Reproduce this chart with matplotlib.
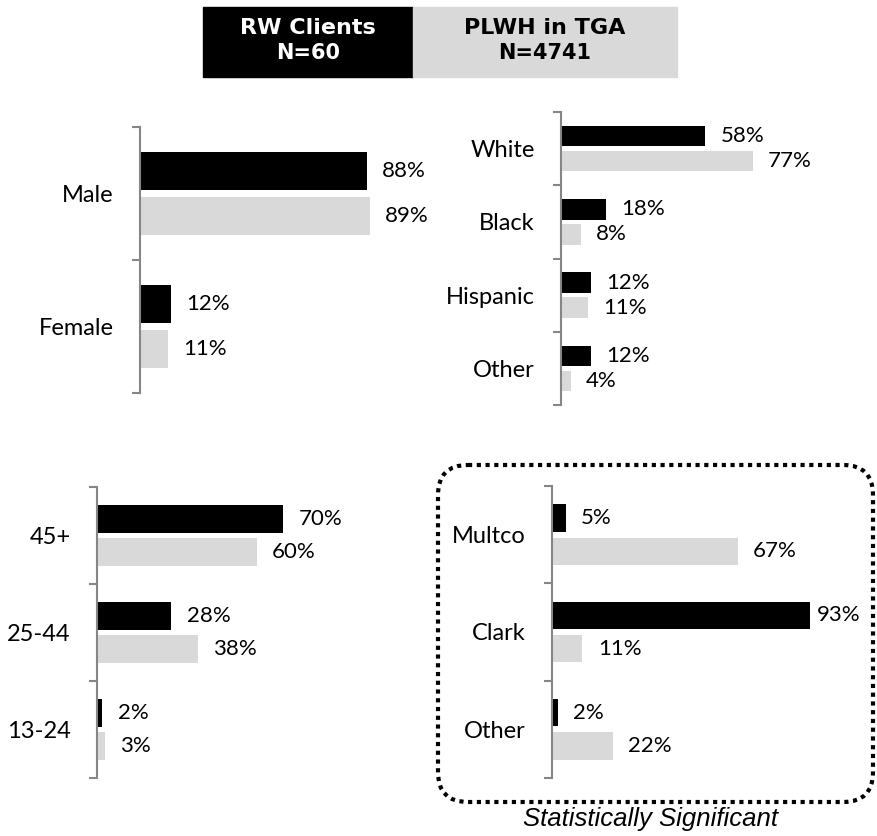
import numpy as np
import matplotlib.pyplot as plt
from matplotlib.patches import FancyBboxPatch, Rectangle

W, H = 878, 836

gender = ['Male', 'Female']
gender_rw = [88, 12]
gender_plwh = [89, 11]

race = ['White', 'Black', 'Hispanic', 'Other']
race_rw = [58, 18, 12, 12]
race_plwh = [77, 8, 11, 4]

age = ['45+', '25-44', '13-24']
age_rw = [70, 28, 2]
age_plwh = [60, 38, 3]

county = ['Multco', 'Clark', 'Other']
county_rw = [5, 93, 2]
county_plwh = [67, 11, 22]

BLACK = '#000000'
GREY = '#d9d9d9'
AXIS = '#868686'
FONT = 'Lato'

fig = plt.figure(figsize=(W / 100, H / 100), dpi=100)

# overlay axes in pixel units for legend + dotted box
ov = fig.add_axes([0, 0, 1, 1])
ov.set_xlim(0, W)
ov.set_ylim(H, 0)
ov.axis('off')

ov.add_patch(Rectangle((203, 7), 210, 70, color=BLACK))
ov.add_patch(Rectangle((413, 7), 264, 70, color=GREY))
ov.text(308, 28, 'RW Clients', color='white', fontsize=16, fontweight='bold',
        ha='center', va='center', family='DejaVu Sans')
ov.text(308, 53, 'N=60', color='white', fontsize=15, fontweight='bold',
        ha='center', va='center', family='DejaVu Sans')
ov.text(545, 28, 'PLWH in TGA', color=BLACK, fontsize=16, fontweight='bold',
        ha='center', va='center', family='DejaVu Sans')
ov.text(545, 53, 'N=4741', color=BLACK, fontsize=15, fontweight='bold',
        ha='center', va='center', family='DejaVu Sans')

ov.add_patch(FancyBboxPatch((438, 465), 435, 337,
                            boxstyle='round,pad=0,rounding_size=30',
                            fill=False, ec=BLACK, lw=3, ls=(0, (1, 1.1))))
ov.text(651, 819, 'Statistically Significant', fontsize=18.5, style='italic',
        ha='center', va='center', family='Liberation Sans')


def panel(x0, y0, x1, y1, cats, rw, plwh):
    ax = fig.add_axes([x0 / W, 1 - y1 / H, (x1 - x0) / W, (y1 - y0) / H])
    y = np.arange(len(cats))
    ax.barh(y - 0.17, rw, height=0.28, color=BLACK)
    ax.barh(y + 0.17, plwh, height=0.28, color=GREY)
    ax.set_xlim(0, 100)
    ax.set_ylim(len(cats) - 0.5, -0.5)
    for pos, vals in ((y - 0.17, rw), (y + 0.17, plwh)):
        for p, v in zip(pos, vals):
            pad = 5 if v > 90 else 11
            ax.annotate(f'{v}%', (v, p), xytext=(pad, 0), textcoords='offset points',
                        va='center', ha='left', fontsize=16, family=FONT)
    ax.set_yticks(np.arange(len(cats) + 1) - 0.5)
    ax.set_yticklabels([])
    ax.tick_params(axis='y', which='major', length=6, width=1.5, color=AXIS)
    ax.set_yticks(y, minor=True)
    ax.set_yticklabels(cats, minor=True, fontsize=17, family=FONT)
    ax.tick_params(axis='y', which='minor', length=0, pad=19)
    ax.set_xticks([])
    for s in ['top', 'right', 'bottom']:
        ax.spines[s].set_visible(False)
    ax.spines['left'].set_color(AXIS)
    ax.spines['left'].set_linewidth(1.5)
    ax.patch.set_alpha(0)
    return ax


panel(140, 127, 398, 393, gender, gender_rw, gender_plwh)
panel(561, 112, 810, 405, race, race_rw, race_plwh)
panel(97, 487, 363, 778, age, age_rw, age_plwh)
panel(552, 486, 829, 778, county, county_rw, county_plwh)

fig.savefig('out.png', dpi=100)
